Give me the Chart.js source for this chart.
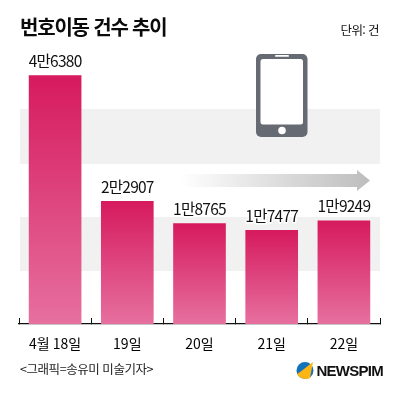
<!DOCTYPE html>
<html lang="ko"><head><meta charset="utf-8">
<script src="https://cdn.jsdelivr.net/npm/chart.js@4"></script>
<style>
html,body{margin:0;padding:0;background:#fff;width:400px;height:396px;overflow:hidden}
body{position:relative;font-family:"Noto Sans CJK KR","Noto Sans",sans-serif;color:#111}
canvas{position:absolute;left:0;top:0}
.t{position:absolute;white-space:nowrap;line-height:1}
svg{position:absolute}
</style></head><body>
<canvas id="c" width="400" height="396"></canvas>
<div class="t" style="left:20px;top:17px;font-size:20px;font-weight:700;letter-spacing:-1.2px;color:#0b0b0b">번호이동 건수 추이</div>
<div class="t" style="right:21px;top:24px;font-size:12.5px;letter-spacing:-.6px">단위: 건</div>
<div class="t" style="left:20px;top:363px;font-size:12.5px;letter-spacing:-.45px;color:#222">&lt;그래픽=송유미 미술기자&gt;</div>
<div class="t" style="left:316.500px;top:363px;font-family:'Liberation Sans';font-size:15px;font-weight:700;letter-spacing:-.75px;color:#111">NEWSPIM</div>
<svg style="left:0;top:0" width="400" height="396">
<defs><linearGradient id="ar" x1="0" x2="1" y1="0" y2="0"><stop offset="0" stop-color="#fff"/><stop offset="1" stop-color="#bdbdbd"/></linearGradient></defs>
<path d="M180 174H357V170L370 180.500L357 191V187H180Z" fill="url(#ar)"/>
<rect x="256" y="54" width="51.500" height="83" rx="5" fill="#666a72"/>
<rect x="260.500" y="59" width="42.500" height="65.500" rx="2.500" fill="#fff"/>
<rect x="275" y="55" width="14" height="1.800" rx=".9" fill="#fff"/>
<circle cx="282" cy="130.500" r="3.800" fill="#fff"/>
<circle cx="305" cy="370.500" r="8.500" fill="#1273bb"/>
<path d="M297 374C302 371 307 366 313 362L310 378C306 380 300 379 297 374Z" fill="#fbb515"/>
</svg>
<script>
const categories = ["4월 18일", "19일", "20일", "21일", "22일"];
const values = [46380, 22907, 18765, 17477, 19249];
const valueLabels = ["4만6380", "2만2907", "1만8765", "1만7477", "1만9249"];

const decor = {
  id: "decor",
  beforeDatasetsDraw(chart) {
    const { ctx } = chart;
    ctx.save();
    ctx.fillStyle = "#f1f1f1";
    ctx.fillRect(20, 109, 360, 55);
    ctx.fillRect(20, 217, 360, 54);
    ctx.restore();
  },
  afterDatasetsDraw(chart) {
    const { ctx } = chart;
    const bars = chart.getDatasetMeta(0).data;
    ctx.save();
    ctx.font = '400 15.5px "Noto Sans CJK KR"';
    ctx.letterSpacing = "-0.75px";
    ctx.textAlign = "center";
    ctx.textBaseline = "alphabetic";
    ctx.lineJoin = "round";
    bars.forEach((b, i) => {
      ctx.strokeStyle = "#fff";
      ctx.lineWidth = 3;
      ctx.strokeText(valueLabels[i], b.x, b.y - 8.5);
      ctx.fillStyle = "#111";
      ctx.fillText(valueLabels[i], b.x, b.y - 8.5);
    });
    ctx.restore();
  }
};

new Chart(document.getElementById("c"), {
  type: "bar",
  data: {
    labels: categories,
    datasets: [{
      data: values,
      barThickness: 52,
      backgroundColor(c) {
        const chart = c.chart, y = chart.scales.y;
        if (!y || c.raw == null) return "#d61a5e";
        const y0 = y.getPixelForValue(c.raw), y1 = y.getPixelForValue(0);
        if (!isFinite(y0) || !isFinite(y1)) return "#d61a5e";
        const g = chart.ctx.createLinearGradient(0, y0, 0, y1);
        g.addColorStop(0, "#d61a5e");
        g.addColorStop(1, "#e6709f");
        return g;
      }
    }]
  },
  options: {
    responsive: false,
    animation: false,
    layout: { padding: { left: 19, right: 20, top: 24, bottom: 0 } },
    plugins: { legend: { display: false }, tooltip: { enabled: false }, title: { display: false } },
    scales: {
      y: { display: false, min: 0, max: 56000 },
      x: {
        afterFit(s) { s.height = 72; },
        border: { color: "#111", width: 1.3 },
        grid: { display: true, drawOnChartArea: false, offset: true, color: "#111", lineWidth: 1, tickLength: -6 },
        ticks: { color: "#000", maxRotation: 0, padding: 17, font: { family: '"Noto Sans CJK KR"', size: 14 } }
      }
    }
  },
  plugins: [decor]
});
</script>
</body></html>
